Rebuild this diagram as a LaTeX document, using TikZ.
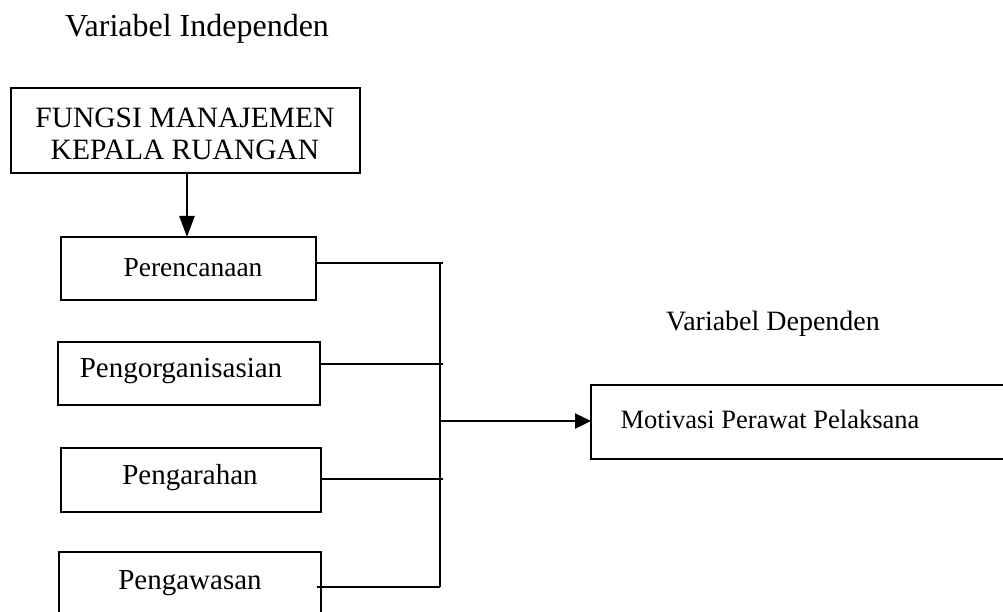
\documentclass[tikz,border=0pt]{standalone}
\usepackage{fontspec}
\setmainfont{Liberation Serif}
\usetikzlibrary{arrows.meta}
\tikzset{
  box/.style={draw, line width=2.4pt, rectangle, inner sep=0pt},
  txt/.style={inner sep=0pt, align=center, font=\fontsize{28}{32}\selectfont},
  wire/.style={line width=2.4pt},
  arr/.style={line width=2.4pt, -{Triangle[length=21pt,width=15pt]}},
  arrs/.style={line width=2.4pt, -{Triangle[length=16pt,width=15pt]}}
}
\begin{document}
\begin{tikzpicture}[x=1pt,y=-1pt]
\useasboundingbox (0,0) rectangle (1003,612);
\clip (0,0) rectangle (1003,612);
% titles
\node[txt, font=\fontsize{32}{36}\selectfont] (tind) at (197,29) {Variabel Independen};
\node[txt] (tdep) at (773,324) {Variabel Dependen};
% boxes
\draw[box] (11,88) rectangle (360,173);
\coordinate (fb) at (187,173);
\node[txt, font=\fontsize{29.5}{32}\selectfont] (fungsi) at (185,134) {FUNGSI MANAJEMEN\\KEPALA RUANGAN};
\draw[box] (61,237) rectangle (316,300);
\coordinate (pt) at (187,237);
\node[txt, font=\fontsize{27.5}{32}\selectfont] (p1) at (193,268) {Perencanaan};
\draw[box] (58,342) rectangle (320,405);
\node[txt, font=\fontsize{29}{32}\selectfont] (p2) at (181,371) {Pengorganisasian};
\draw[box] (61,448) rectangle (321,512);
\node[txt, font=\fontsize{29}{32}\selectfont] (p3) at (190,478) {Pengarahan};
\draw[box] (59,552) rectangle (321,640);
\node[txt, font=\fontsize{29}{32}\selectfont] (p4) at (190,583) {Pengawasan};
\draw[box] (591,385) rectangle (1020,459);
\node[txt, font=\fontsize{26.5}{32}\selectfont] (mot) at (770,419) {Motivasi Perawat Pelaksana};
% connectors
\draw[arr] (fb) -- (pt);
\coordinate (r1) at (316,263); \coordinate (b1) at (443,263);
\coordinate (r2) at (320,364); \coordinate (b2) at (443,364);
\coordinate (r3) at (321,479); \coordinate (b3) at (443,479);
\coordinate (r4) at (317,587); \coordinate (b4) at (440,587);
\coordinate (bt) at (440,263);
\coordinate (bm) at (440,421); \coordinate (mt) at (591,421);
\draw[wire] (r1) -- (b1);
\draw[wire] (r2) -- (b2);
\draw[wire] (r3) -- (b3);
\draw[wire] (r4) -- (b4);
\draw[wire] (bt) -- (b4);
\draw[arrs] (bm) -- (mt);
\end{tikzpicture}
\end{document}
